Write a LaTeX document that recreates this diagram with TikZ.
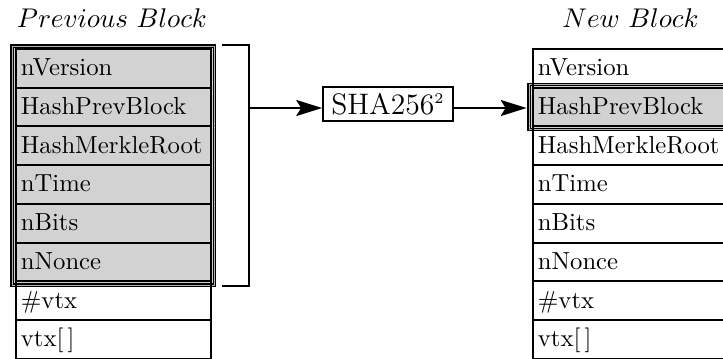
\documentclass[tikz,border=0pt]{standalone}
\usetikzlibrary{arrows.meta}
\begin{document}
\begin{tikzpicture}[x=0.405pt,y=-0.405pt,
  cell/.style={draw, line width=0.8pt, rectangle, minimum width=79pt, minimum height=15.67pt,
    text width=75pt, inner xsep=2pt, inner ysep=0pt, align=left, text height=8.5pt, text depth=2.42pt},
  frame/.style={draw=black, line width=0.55pt, double=gray!60, double distance=0.35pt,
    fill=gray!35, inner sep=0pt, minimum width=82pt},
  ttl/.style={anchor=base, font=\fontsize{10.5}{12}\selectfont},
  arr/.style={line width=0.8pt, -{Stealth[length=10.5pt,width=6.5pt,inset=2pt]}}]
\useasboundingbox (0,0) rectangle (723,358);
% highlight frames
\node[frame, minimum height=96.8pt] (lf) at (113.25,165.5) {};
\node[frame, minimum height=18.2pt] (rf) at (630.5,107) {};
% titles
\node[ttl] (pt) at (112,27) {$Previous\ Block$};
\node[ttl] (nt) at (630.5,27) {$New\ Block$};
% previous block cells
\foreach \t [count=\i] in {nVersion, HashPrevBlock, HashMerkleRoot, nTime, nBits, nNonce}
  \node[cell, fill=gray!35] (l\i) at (113.5, {49+38.7*(\i-0.5)}) {\t};
\foreach \t [count=\i from 7] in {\#vtx, {vtx$[\,]$}}
  \node[cell] (l\i) at (113.5, {49+38.7*(\i-0.5)}) {\t};
% new block cells
\foreach \t [count=\i] in {nVersion, HashPrevBlock, HashMerkleRoot, nTime, nBits, nNonce, \#vtx, {vtx$[\,]$}}
  \node[cell] (r\i) at (630.5, {49+38.7*(\i-0.5)}) {\t};
\node[cell, fill=gray!35] at (r2) {HashPrevBlock};
% bracket
\coordinate (bt) at (222,45);
\coordinate (bb) at (222,286);
\coordinate (bm) at (249,108);
\draw[line width=0.8pt] (bt) -- ++(27,0) |- (bb);
% hash box
\node[draw, line width=0.7pt, minimum width=52.65pt, minimum height=13.77pt, inner sep=0pt, font=\large] (sha) at (388,104) {SHA256$^{\scriptscriptstyle 2}$};
\draw[arr] (bm) -- (bm -| sha.west);
\draw[arr, shorten >=0.8pt] (bm -| sha.east) -- (bm -| rf.west);
\end{tikzpicture}
\end{document}
